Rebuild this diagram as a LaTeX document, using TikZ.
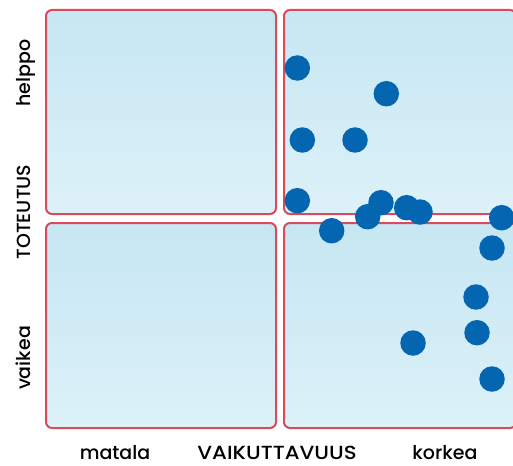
\documentclass[tikz,border=0pt]{standalone}
\usepackage{fontspec}
\setmainfont{Poppins}[UprightFont=* Medium]
\definecolor{boxred}{HTML}{D94A5C}
\definecolor{boxfill}{HTML}{C6E7F3}
\definecolor{boxfilltwo}{HTML}{DDF1F8}
\definecolor{dotblue}{HTML}{0465B1}
\begin{document}
\begin{tikzpicture}[x=1pt,y=-1pt,
  quad/.style={draw=boxred,line width=2pt,rounded corners=6pt,top color=boxfill,bottom color=boxfilltwo},
  pt/.style={circle,fill=dotblue,minimum size=25.5pt,inner sep=0pt},
  lbl/.style={font=\fontsize{19}{22}\selectfont,text=black,inner sep=0pt}]
\useasboundingbox (0,0) rectangle (513,465);
\draw[quad] (46,10) rectangle (276,214);
\draw[quad] (284,10) rectangle (516,214);
\draw[quad] (46,223) rectangle (276,428);
\draw[quad] (284,223) rectangle (516,428);
\node[pt] (p1) at (297.3,68) {};
\node[pt] (p2) at (386.3,93.7) {};
\node[pt] (p3) at (302.3,140) {};
\node[pt] (p4) at (355,140) {};
\node[pt] (p5) at (297.3,200.7) {};
\node[pt] (p6) at (381,202.7) {};
\node[pt] (p7) at (367.7,216.7) {};
\node[pt] (p8) at (406.7,207.7) {};
\node[pt] (p9) at (420,212) {};
\node[pt] (p10) at (331.7,230.7) {};
\node[pt] (p11) at (501.7,217.7) {};
\node[pt] (p12) at (492,248) {};
\node[pt] (p13) at (476,297) {};
\node[pt] (p14) at (477,332.7) {};
\node[pt] (p15) at (413,343) {};
\node[pt] (p16) at (492,379) {};
\node[lbl,rotate=90,anchor=base] (helppo) at (30,73) {helppo};
\node[lbl,rotate=90,anchor=base] (toteutus) at (30,212) {TOTEUTUS};
\node[lbl,rotate=90,anchor=base] (vaikea) at (30,358) {vaikea};
\node[lbl,anchor=base] (matala) at (115,459.5) {matala};
\node[lbl,anchor=base,xscale=1.12] (vaik) at (277,459.5) {VAIKUTTAVUUS};
\node[lbl,anchor=base] (korkea) at (445,459.5) {korkea};
\end{tikzpicture}
\end{document}
